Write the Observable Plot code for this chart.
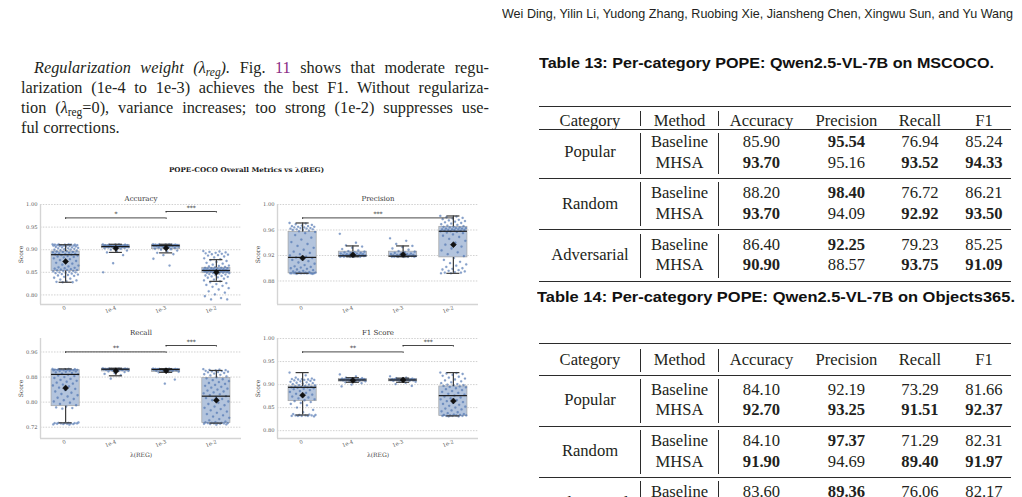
<!DOCTYPE html>
<html>
<head>
<meta charset="utf-8">
<script src="https://cdn.jsdelivr.net/npm/d3@7"></script>
<script src="https://cdn.jsdelivr.net/npm/@observablehq/plot@0.6"></script>
<style>
  html, body { margin: 0; padding: 0; background: #fff; }
  #page { position: relative; width: 1022px; height: 497px; overflow: hidden; background: #fff; color: #231f20; }
  .t { position: absolute; white-space: nowrap; line-height: 1; }
  .serif { font-family: "Liberation Serif", "DejaVu Serif", serif; }
  .sans { font-family: "Liberation Sans", "DejaVu Sans", sans-serif; }
  .dserif { font-family: "DejaVu Serif", serif; }
  .link { color: #8a2c86; }
  sub { font-size: 0.7em; vertical-align: -0.28em; line-height: 0; }
  .panel { position: absolute; }
  .panel svg { overflow: visible; }
  .hr { position: absolute; background: #2b2b2b; }
</style>
</head>
<body>
<div id="page"></div>
<script>
// ---------- figure data: POPE-COCO metrics for each λ(REG) setting ----------
const lambdaLabels = ["0", "1e-4", "1e-3", "1e-2"];

// box summaries per λ: [whisker low, q1, median, q3, whisker high, mean]
const accuracyBox = [
  [0.828, 0.853, 0.889, 0.896, 0.911, 0.874],
  [0.894, 0.903, 0.907, 0.910, 0.912, 0.903],
  [0.893, 0.901, 0.909, 0.911, 0.912, 0.904],
  [0.830, 0.848, 0.854, 0.860, 0.878, 0.850]
];
const precisionBox = [
  [0.892, 0.892, 0.917, 0.957, 0.971, 0.916],
  [0.918, 0.918, 0.9195, 0.926, 0.935, 0.921],
  [0.918, 0.918, 0.919, 0.926, 0.935, 0.9215],
  [0.892, 0.917, 0.958, 0.965, 0.982, 0.937]
];
const recallBox = [
  [0.734, 0.787, 0.8885, 0.902, 0.906, 0.845],
  [0.884, 0.898, 0.905, 0.9066, 0.908, 0.899],
  [0.895, 0.896, 0.904, 0.9055, 0.907, 0.900],
  [0.733, 0.733, 0.819, 0.877, 0.901, 0.806]
];
const f1Box = [
  [0.834, 0.864, 0.894, 0.896, 0.926, 0.877],
  [0.905, 0.9065, 0.910, 0.912, 0.915, 0.909],
  [0.905, 0.907, 0.910, 0.912, 0.914, 0.910],
  [0.832, 0.832, 0.876, 0.896, 0.926, 0.8645]
];

// individual run scores per λ, in thousandths
const accuracyPoints = [
  "912 912 912 911 911 911 911 910 910 910 910 909 909 909 908 908 907 907 906 905 905 904 903 903 902 901 900 900 899 898 897 896 895 895 894 893 892 891 890 890 889 888 887 886 885 884 883 881 879 877 875 873 871 869 867 865 863 861 860 859 858 857 856 855 855 854 853 853 852 851 850 850 849 848 847 846 845 844 843 842 840 838 836 834 832 830 829 828 828",
  "912 912 911 911 911 910 910 910 910 909 909 909 908 908 908 908 907 907 907 906 906 906 905 905 904 904 903 902 900 898 896 894 888 870 850",
  "912 912 912 911 911 911 911 910 910 910 910 910 909 909 909 909 909 908 908 908 907 907 906 905 904 903 902 901 900 898 896 893 890 888 880 865",
  "897 896 895 894 893 892 891 890 889 888 887 885 883 881 879 877 875 873 871 869 867 865 864 863 862 861 860 860 859 859 858 858 857 857 856 856 855 855 855 854 854 854 853 853 853 852 852 852 851 851 850 850 849 849 848 848 847 846 845 844 843 842 841 840 839 838 836 834 832 830 828 826 824 822 820 818 815 812 808 805 801 797 793 790 790"
];
const precisionPoints = [
  "971 970 969 968 967 966 966 965 965 964 964 963 963 962 962 961 961 960 960 959 958 957 955 952 948 945 941 938 935 932 929 926 924 922 920 918 917 916 915 913 911 909 907 905 903 902 901 900 899 898 897 896 895 894 894 893 893 893 892 892 892 892 892 892 892 892 892 892 892 892 891 891",
  "954 940 936 934 932 930 928 927 926 925 925 924 924 923 923 922 922 922 921 921 921 920 920 920 920 919 919 919 919 919 918 918 918 918 918",
  "947 943 938 935 933 931 929 927 926 925 924 923 923 922 922 921 921 920 920 920 920 919 919 919 919 919 918 918 918 918 918 918",
  "982 981 980 979 978 977 976 975 974 973 972 971 970 969 968 967 966 965 965 964 964 963 963 962 962 961 961 961 960 960 960 959 959 958 958 957 956 955 953 951 949 946 943 940 937 934 931 928 925 922 919 916 913 910 908 906 904 902 900 899 898 897 896 895 894 893 893 892 892"
];
const recallPoints = [
  "906 906 905 905 905 904 904 904 903 903 903 902 902 901 900 899 898 897 895 893 891 889 887 885 883 880 877 874 871 868 865 862 859 856 853 850 846 842 838 834 830 826 822 818 814 810 806 802 798 794 790 786 783 781 779 735 734 734 733 733 733 732 732 732 731 731 730 730 729 728",
  "908 907 907 907 906 906 906 906 906 905 905 905 905 905 904 904 904 903 903 902 901 900 899 898 896 893 890 886 875",
  "907 907 906 906 906 906 905 905 905 905 905 904 904 904 903 903 902 901 900 899 898 897 896 895 872 859",
  "905 904 903 902 901 900 899 898 897 896 895 893 891 889 887 885 882 879 876 873 870 867 864 861 858 855 852 849 846 843 840 837 834 831 828 825 822 819 816 813 810 806 802 798 794 790 786 782 778 774 770 766 762 758 754 750 746 742 738 736 735 734 734 733 733 733 732 732 731 731 730 729 728"
];
const f1Points = [
  "926 920 915 913 912 912 911 911 910 910 909 908 907 906 905 904 903 902 901 900 899 898 897 896 895 895 894 894 893 892 891 890 888 886 884 882 880 878 876 874 872 870 868 866 864 862 860 858 855 850 845 840 836 835 834 834 833 833 833 832 832 832 832 831",
  "922 918 915 914 913 913 912 912 912 911 911 911 911 910 910 910 910 909 909 908 908 907 906 905 903 900 896",
  "918 915 914 913 913 912 912 912 911 911 911 911 910 910 910 910 909 909 908 908 907 906 904 901 897",
  "926 925 924 923 921 919 917 915 913 911 909 907 905 903 901 900 899 898 897 896 895 894 892 890 888 886 884 882 880 878 876 874 872 870 868 866 864 862 860 858 856 854 852 850 848 846 844 842 840 838 836 835 834 834 833 833 833 832 832 832 832 831 831"
];

// significance brackets: [from λ index, to λ index, stars, stacking level]
const accuracyPairs = [[0, 2, "*", 0], [2, 3, "***", 1]];
const precisionPairs = [[0, 3, "***", 0]];
const recallPairs = [[0, 2, "**", 0], [2, 3, "***", 1]];
const f1Pairs = [[0, 2, "**", 0], [2, 3, "***", 1]];

// ---------- table data ----------
const tableCategories = ["Popular", "Random", "Adversarial"];
const tableMethods = ["Baseline", "MHSA"];
const tableColumns = ["Category", "Method", "Accuracy", "Precision", "Recall", "F1"];
const cocoValues = [
  [85.90, 95.54, 76.94, 85.24], [93.70, 95.16, 93.52, 94.33],
  [88.20, 98.40, 76.72, 86.21], [93.70, 94.09, 92.92, 93.50],
  [86.40, 92.25, 79.23, 85.25], [90.90, 88.57, 93.75, 91.09]
];
const cocoBest = [
  [0, 1, 0, 0], [1, 0, 1, 1],
  [0, 1, 0, 0], [1, 0, 1, 1],
  [0, 1, 0, 0], [1, 0, 1, 1]
];
const objectsValues = [
  [84.10, 92.19, 73.29, 81.66], [92.70, 93.25, 91.51, 92.37],
  [84.10, 97.37, 71.29, 82.31], [91.90, 94.69, 89.40, 91.97],
  [83.60, 89.36, 76.06, 82.17]
];
const objectsBest = [
  [0, 0, 0, 0], [1, 1, 1, 1],
  [0, 1, 0, 0], [1, 0, 1, 1],
  [0, 1, 0, 0]
];

// ---------- helpers ----------
const page = document.getElementById("page");

function put(html, {x, cy, anchor = "start", size = 16, family = "serif", weight = "normal", fit = null, justify = null, color = null}) {
  const el = document.createElement("div");
  el.className = "t " + family;
  el.style.fontSize = size + "px";
  el.style.fontWeight = weight;
  if (color) el.style.color = color;
  el.innerHTML = html;
  page.appendChild(el);
  let w = el.getBoundingClientRect().width;
  if (justify) {
    const gaps = el.textContent.split(" ").length - 1;
    el.style.wordSpacing = ((justify - w) / gaps) + "px";
    w = justify;
  }
  const sx = fit ? fit / w : 1;
  const ww = w * sx;
  const left = anchor === "middle" ? x - ww / 2 : anchor === "end" ? x - ww : x;
  el.style.left = left + "px";
  el.style.top = (cy - size * 0.5) + "px";
  if (fit) { el.style.transformOrigin = "0 0"; el.style.transform = `scaleX(${sx})`; }
  return el;
}

function hline(x1, x2, y, h) {
  const el = document.createElement("div");
  el.className = "hr";
  Object.assign(el.style, {left: x1 + "px", width: (x2 - x1) + "px", top: Math.round(y - h / 2) + "px", height: h + "px"});
  page.appendChild(el);
}
function vline(x, y1, y2) {
  const el = document.createElement("div");
  el.className = "hr";
  Object.assign(el.style, {left: Math.round(x) + "px", width: "1px", top: Math.round(y1) + "px", height: Math.round(y2 - y1) + "px"});
  page.appendChild(el);
}

// ---------- running header ----------
put("Wei Ding, Yilin Li, Yudong Zhang, Ruobing Xie, Jiansheng Chen, Xingwu Sun, and Yu Wang",
  {x: 502, cy: 13, size: 13, family: "sans", fit: 511});

// ---------- body paragraph ----------
const paraLeft = 21, paraRight = 489;
put('<i>Regularization weight (λ<sub>reg</sub>).</i> Fig. <span class="link">11</span> shows that moderate regu-',
  {x: 34, cy: 68.5, size: 16.3, justify: paraRight - 34});
put('larization (1e-4 to 1e-3) achieves the best F1. Without regulariza-',
  {x: paraLeft, cy: 88.5, size: 16.3, justify: paraRight - paraLeft});
put('tion (<i>λ</i><sub>reg</sub>=0), variance increases; too strong (1e-2) suppresses use-',
  {x: paraLeft, cy: 108.5, size: 16.3, justify: paraRight - paraLeft});
put('ful corrections.', {x: paraLeft, cy: 128.5, size: 16.3});

// ---------- figure ----------
put("POPE-COCO Overall Metrics vs λ(REG)", {x: 246.5, cy: 170, anchor: "middle", size: 6.6, family: "dserif", weight: "bold", fit: 155, color: "#1a1a1a"});

const panels = [
  {name: "Accuracy", box: accuracyBox, pts: accuracyPoints, pairs: accuracyPairs, domain: [0.7788, 1.0], ticks: [0.80, 0.85, 0.90, 0.95, 1.00], left: 0, top: 190, xLabel: false},
  {name: "Precision", box: precisionBox, pts: precisionPoints, pairs: precisionPairs, domain: [0.8431, 1.0], ticks: [0.88, 0.92, 0.96, 1.00], left: 237, top: 190, xLabel: false},
  {name: "Recall", box: recallBox, pts: recallPoints, pairs: recallPairs, domain: [0.684, 1.003], ticks: [0.72, 0.80, 0.88, 0.96], left: 0, top: 324, xLabel: true},
  {name: "F1 Score", box: f1Box, pts: f1Points, pairs: f1Pairs, domain: [0.783, 1.0], ticks: [0.80, 0.85, 0.90, 0.95, 1.00], left: 237, top: 324, xLabel: true}
];

function drawPanel(p) {
  const [lo, hi] = p.domain, span = hi - lo;
  const boxes = p.box.map(([wLo, q1, med, q3, wHi, mean], i) => ({i, wLo, q1, med, q3, wHi, mean}));
  const pts = p.pts.flatMap((s, i) => s.trim().split(/\s+/).map((v, k) => ({i, k, v: +v / 1000})));
  // strip-plot spread: golden-ratio stepping across the box width
  const jx = d => d.i + (((d.k * 0.6180339887) % 1) - 0.5) * 0.52;
  const level = L => hi - span * (L === 0 ? 0.134 : 0.07);
  const br = p.pairs.map(([a, b, label, L]) => ({a, b, label, y: level(L), mid: (a + b) / 2}));
  const drop = span * 0.016;
  const halfBox = 0.28, halfCap = 0.13;
  const ink = "#3a3a3a";

  const chart = Plot.plot({
    width: 250, height: 140,
    marginLeft: 40, marginRight: 9, marginTop: 14, marginBottom: 26,
    x: {domain: [-0.5, 3.5]},
    y: {domain: [lo, hi]},
    style: {fontFamily: "DejaVu Serif", fontSize: "5.2px", color: "#555", background: "transparent", overflow: "visible"},
    marks: [
      Plot.gridY(p.ticks, {stroke: "#bdbdbd", strokeOpacity: 1, strokeWidth: 0.7, strokeDasharray: "1.5,1.3"}),
      Plot.ruleX([-0.5], {stroke: "#d4d4d4", strokeWidth: 1.4}),
      Plot.ruleY([lo], {stroke: "#d4d4d4", strokeWidth: 1.4}),
      Plot.axisY(p.ticks, {tickSize: 0, tickPadding: 3, tickFormat: ".2f", label: null}),
      Plot.axisX([0, 1, 2, 3], {tickSize: 0, tickPadding: 3, tickFormat: i => lambdaLabels[i], tickRotate: -22, label: null}),
      Plot.rect(boxes, {x1: d => d.i - halfBox, x2: d => d.i + halfBox, y1: "q1", y2: "q3", fill: "#b3c4dd", stroke: "#a3a3a3", strokeWidth: 0.7}),
      Plot.dot(pts, {x: jx, y: "v", r: 1.15, fill: "#4c72b0", fillOpacity: 0.66, stroke: "#4c72b0", strokeOpacity: 0.35, strokeWidth: 0.3}),
      Plot.ruleX(boxes, {x: "i", y1: "wLo", y2: "q1", stroke: ink, strokeWidth: 1.2}),
      Plot.ruleX(boxes, {x: "i", y1: "q3", y2: "wHi", stroke: ink, strokeWidth: 1.2}),
      Plot.ruleY(boxes, {y: "wLo", x1: d => d.i - halfCap, x2: d => d.i + halfCap, stroke: ink, strokeWidth: 1.2}),
      Plot.ruleY(boxes, {y: "wHi", x1: d => d.i - halfCap, x2: d => d.i + halfCap, stroke: ink, strokeWidth: 1.2}),
      Plot.ruleY(boxes, {y: "med", x1: d => d.i - halfBox, x2: d => d.i + halfBox, stroke: "#1a1a1a", strokeWidth: 1.2}),
      Plot.dot(boxes, {x: "i", y: "mean", symbol: "diamond2", r: 2.7, fill: "#111", stroke: "#111", strokeWidth: 0.5}),
      Plot.ruleY(br, {y: "y", x1: "a", x2: "b", stroke: "#333", strokeWidth: 0.9}),
      Plot.ruleX(br, {x: "a", y1: "y", y2: d => d.y - drop, stroke: "#333", strokeWidth: 0.9}),
      Plot.ruleX(br, {x: "b", y1: "y", y2: d => d.y - drop, stroke: "#333", strokeWidth: 0.9}),
      Plot.text(br, {x: "mid", y: "y", text: "label", dy: -3.5, fontSize: 6, fill: "#333"}),
      Plot.text([p.name], {text: d => d, frameAnchor: "top", lineAnchor: "middle", textAnchor: "middle", dy: -6, fontSize: 7, fill: "#333"}),
      Plot.text(["Score"], {text: d => d, frameAnchor: "left", lineAnchor: "middle", textAnchor: "middle", rotate: -90, dx: -19, fontSize: 6, fill: "#444"}),
      p.xLabel ? Plot.text(["λ(REG)"], {text: d => d, frameAnchor: "bottom", lineAnchor: "middle", textAnchor: "middle", dy: 17, fontSize: 6, fill: "#444"}) : null
    ]
  });
  const holder = document.createElement("div");
  holder.className = "panel";
  holder.style.left = p.left + "px";
  holder.style.top = p.top + "px";
  holder.appendChild(chart);
  page.appendChild(holder);
}
panels.forEach(drawPanel);

// ---------- tables ----------
const colX = [590, 679.5, 761.5, 846.5, 920, 984];
const barX = [640, 718];
const ruleL = 539, ruleR = 1011;
const cellSize = 16.6;
const groupH = 51.3;

function drawTable({caption, captionLeft, captionWidth, values, best, captionY, topRule, headerY, headerRule, bodyTop}) {
  put(caption, {x: captionLeft, cy: captionY, size: 15.5, family: "sans", weight: "bold", fit: captionWidth, color: "#111"});
  hline(ruleL, ruleR, topRule, 1.4);
  tableColumns.forEach((c, j) => put(c, {x: colX[j], cy: headerY, anchor: "middle", size: cellSize}));
  barX.forEach(bx => vline(bx, topRule + 4.5, headerRule - 3.5));
  hline(ruleL, ruleR, headerRule, 1);
  tableCategories.forEach((cat, g) => {
    const r0 = bodyTop + g * groupH;
    const rowsY = [r0 + 15, r0 + 35.5];
    put(cat, {x: colX[0], cy: (rowsY[0] + rowsY[1]) / 2, anchor: "middle", size: cellSize});
    barX.forEach(bx => vline(bx, Math.max(r0, headerRule) + 3.7, r0 + groupH - 4));
    tableMethods.forEach((m, k) => {
      const row = values[g * 2 + k];
      if (!row) return;
      put(m, {x: colX[1], cy: rowsY[k], anchor: "middle", size: cellSize});
      row.forEach((v, j) => put(v.toFixed(2), {
        x: colX[j + 2], cy: rowsY[k], anchor: "middle", size: cellSize,
        weight: best[g * 2 + k][j] ? "bold" : "normal"
      }));
    });
    hline(ruleL, ruleR, r0 + groupH, g === tableCategories.length - 1 ? 1.4 : 1);
  });
}

drawTable({caption: "Table 13: Per-category POPE: Qwen2.5-VL-7B on MSCOCO.", captionLeft: 539, captionWidth: 455,
  values: cocoValues, best: cocoBest, captionY: 62.7, topRule: 106.7, headerY: 121, headerRule: 129.5, bodyTop: 127.3});
drawTable({caption: "Table 14: Per-category POPE: Qwen2.5-VL-7B on Objects365.", captionLeft: 537, captionWidth: 478,
  values: objectsValues, best: objectsBest, captionY: 296.7, topRule: 344, headerY: 360, headerRule: 375, bodyTop: 375});
</script>
</body>
</html>
